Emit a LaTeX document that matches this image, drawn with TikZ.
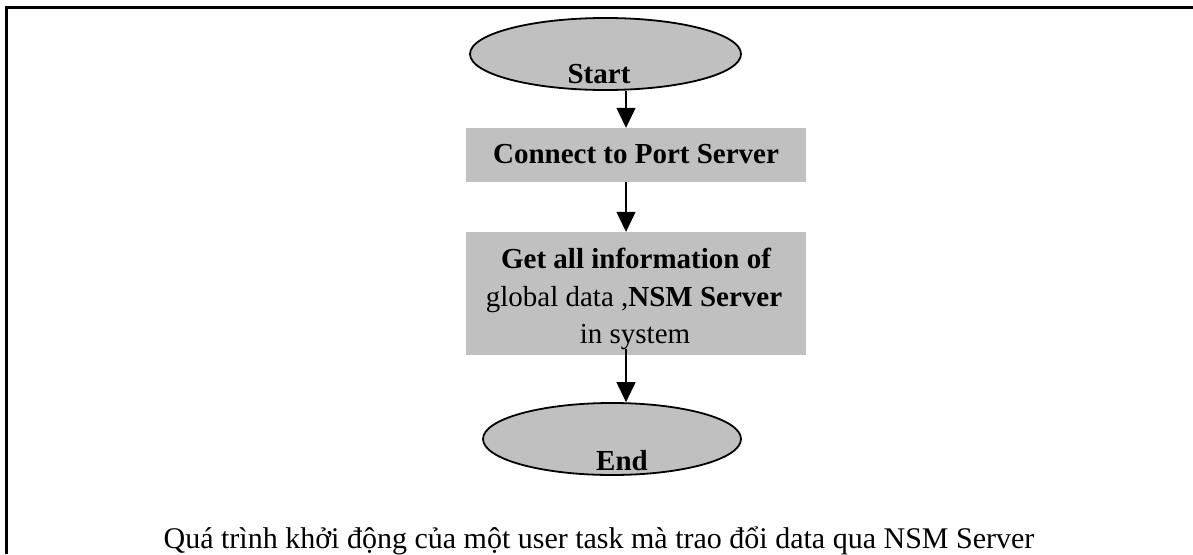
\documentclass[tikz,border=0pt]{standalone}
\usepackage{fontspec}
\setmainfont{Liberation Serif}
\usetikzlibrary{shapes.geometric,arrows.meta}
\definecolor{boxgray}{RGB}{192,192,192}
\begin{document}
\begin{tikzpicture}[x=1pt,y=-1pt,
  term/.style={ellipse, draw, line width=1.8pt, fill=boxgray, inner sep=0pt,
               minimum height=72pt},
  proc/.style={fill=boxgray, inner sep=0pt, minimum width=340pt},
  lbl/.style={font=\fontsize{29}{37}\selectfont, inner sep=0pt, anchor=base},
  flow/.style={-{Triangle[width=19pt,length=20pt]}, line width=1.3pt},
]
\useasboundingbox (0,0) rectangle (1193,554);
% outer frame
\draw[line width=3pt] (1193,7) -- (6,7) -- (6,554);

% vertical line the connectors run along
\coordinate (spine) at (626,0);

% flowchart shapes
\node[term, minimum width=271pt] (start) at (605.5,54) {};
\node[lbl] (starttxt) at (599,83) {\bfseries Start};

\node[proc, minimum height=54pt] (connect) at (636,155) {};
\node[lbl] (connecttxt) at (636,163) {\bfseries Connect to Port Server};

\node[proc, minimum height=123pt] (getinfo) at (636,293.5) {};
\node[lbl] (getinfo1) at (636,268) {\bfseries Get all information of};
\node[lbl] (getinfo2) at (634,306) {global data ,\textbf{NSM Server}};
\node[lbl] (getinfo3) at (635,343) {in system};

\node[term, minimum width=258pt] (finish) at (612,439) {};
\node[lbl] (finishtxt) at (622,470) {\bfseries End};

% connectors
\draw[flow] (start.south -| spine) -- (connect.north -| spine);
\draw[flow] (connect.south -| spine) -- (getinfo.north -| spine);
\draw[flow] ([yshift=6pt]getinfo.south -| spine) -- (finish.north -| spine);

% caption
\node[font=\fontsize{30}{36}\selectfont, inner sep=0pt, anchor=base] (caption)
  at (599,548) {Quá trình khởi động của một user task mà trao đổi data qua NSM Server};
\end{tikzpicture}
\end{document}
